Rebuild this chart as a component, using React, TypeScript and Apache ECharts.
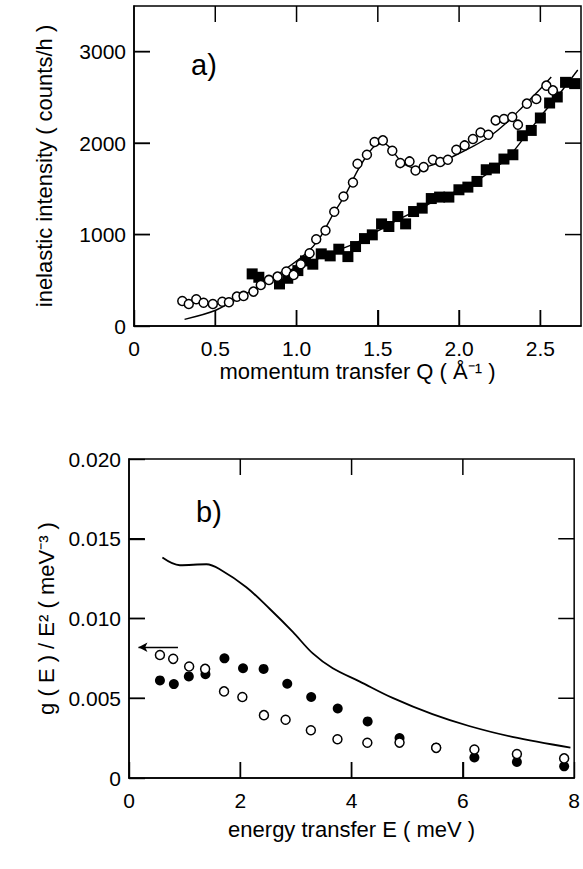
import React, { useEffect, useRef } from "react";
import * as echarts from "echarts";

// ---- Panel a) data ----
const openQ = [0.297, 0.337, 0.383, 0.428, 0.485, 0.543, 0.584, 0.633, 0.674, 0.735, 0.78, 0.83, 0.883, 0.937, 0.982, 1.026, 1.08, 1.121, 1.178, 1.232, 1.289, 1.347, 1.375, 1.433, 1.48, 1.531, 1.589, 1.638, 1.695, 1.732, 1.782, 1.839, 1.884, 1.931, 1.983, 2.034, 2.085, 2.132, 2.18, 2.225, 2.276, 2.327, 2.362, 2.417, 2.475, 2.537, 2.577];
const openI = [274, 241, 292, 255, 241, 266, 259, 321, 329, 376, 449, 504, 540, 595, 559, 676, 796, 949, 1044, 1249, 1416, 1570, 1774, 1873, 2012, 2030, 1917, 1782, 1800, 1701, 1738, 1818, 1793, 1818, 1928, 1975, 2045, 2117, 2092, 2249, 2264, 2286, 2202, 2432, 2483, 2629, 2577];
const squareQ = [0.727, 0.768, 0.895, 0.946, 1.008, 1.055, 1.1, 1.152, 1.207, 1.26, 1.316, 1.363, 1.418, 1.466, 1.523, 1.568, 1.623, 1.671, 1.72, 1.773, 1.829, 1.88, 1.937, 1.999, 2.054, 2.11, 2.167, 2.218, 2.276, 2.331, 2.389, 2.444, 2.5, 2.557, 2.604, 2.655, 2.711];
const squareI = [570, 533, 460, 522, 606, 712, 676, 789, 767, 840, 759, 869, 956, 997, 1117, 1088, 1197, 1117, 1252, 1289, 1394, 1410, 1410, 1490, 1519, 1581, 1709, 1727, 1826, 1873, 2081, 2139, 2275, 2439, 2505, 2665, 2651];
const fitOpenQ = [0.311, 0.506, 0.731, 0.895, 1.06, 1.142, 1.223, 1.306, 1.367, 1.429, 1.49, 1.542, 1.593, 1.654, 1.737, 1.839, 1.962, 2.085, 2.188, 2.29, 2.393, 2.495, 2.567];
const fitOpenI = [73, 175, 394, 577, 796, 961, 1216, 1453, 1672, 1854, 1982, 1993, 1909, 1782, 1727, 1763, 1854, 1964, 2073, 2220, 2402, 2585, 2724];
const fitSquareQ = [0.9, 1.0, 1.1, 1.2, 1.3, 1.4, 1.5, 1.6, 1.7, 1.8, 1.9, 2.0, 2.1, 2.2, 2.3, 2.4, 2.5, 2.6, 2.73];
const fitSquareI = [560, 640, 710, 790, 860, 940, 1040, 1140, 1230, 1320, 1410, 1490, 1580, 1700, 1840, 2060, 2290, 2500, 2800];

// ---- Panel b) data ----
const openE = [0.556, 0.794, 1.081, 1.368, 1.708, 2.037, 2.425, 2.814, 3.268, 3.746, 4.283, 4.862, 5.52, 6.207, 6.971, 7.82];
const openG = [0.00771, 0.00747, 0.00699, 0.00684, 0.00543, 0.00508, 0.00394, 0.00365, 0.00299, 0.00243, 0.00221, 0.00222, 0.00189, 0.00179, 0.0015, 0.00123];
const filledE = [0.556, 0.806, 1.075, 1.374, 1.715, 2.049, 2.419, 2.844, 3.274, 3.751, 4.289, 4.862, 5.52, 6.207, 6.971, 7.82];
const filledG = [0.00612, 0.00589, 0.00637, 0.00651, 0.0075, 0.00688, 0.00684, 0.00591, 0.00508, 0.00436, 0.00355, 0.0025, 0.0019, 0.00129, 0.00101, 0.00073];
const curveE = [0.6, 0.914, 1.392, 1.631, 2.109, 2.527, 2.944, 3.303, 3.662, 4.14, 4.737, 5.453, 6.111, 6.887, 7.933];
const curveG = [0.01382, 0.01334, 0.0134, 0.01309, 0.01196, 0.01061, 0.00916, 0.00781, 0.00688, 0.00606, 0.00502, 0.004, 0.00326, 0.00258, 0.00191];
const arrowFrom = [0.88, 0.0082];
const arrowTo = [0.17, 0.0082];

// ---- Axes / tick values ----
const xTicksA = { min: 0, max: 2.75, interval: 0.5 };
const yTicksA = { min: 0, max: 3500, interval: 1000 };
const xTicksB = { min: 0, max: 8, interval: 2 };
const yTicksB = { min: 0, max: 0.02, interval: 0.005 };
const tickQ = [0.5, 1.0, 1.5, 2.0, 2.5];
const tickI = [1000, 2000, 3000];
const tickE = [2, 4, 6];
const tickG = [0.005, 0.01, 0.015];

const FONT = "'Liberation Sans', Arial, Helvetica, sans-serif";
const TICK_LEN = 16;
const GRID_A = { left: 134, top: 6, width: 447, height: 320 };
const GRID_B = { left: 129, top: 459, width: 448, height: 319 };
const zip = (a: number[], b: number[]) => a.map((v, i) => [v, b[i]]);

// inward tick segments on all four sides, drawn as tiny line series in axis units
const frameTickSeries = (idx: number, xs: number[], ys: number[], xr: any, yr: any, g: any) => {
  const dy = (TICK_LEN / g.height) * (yr.max - yr.min);
  const dx = (TICK_LEN / g.width) * (xr.max - xr.min);
  const segs: number[][][] = [];
  xs.forEach((v) => {
    segs.push([[v, yr.min], [v, yr.min + dy]]);
    segs.push([[v, yr.max], [v, yr.max - dy]]);
  });
  ys.forEach((v) => {
    segs.push([[xr.min, v], [xr.min + dx, v]]);
    segs.push([[xr.max, v], [xr.max - dx, v]]);
  });
  return segs.map((s) => ({
    type: "line", xAxisIndex: idx, yAxisIndex: idx, data: s,
    showSymbol: false, symbol: "none", silent: true, clip: false, z: 4,
    lineStyle: { color: "#000", width: 1.5, opacity: 1 },
    emphasis: { disabled: true },
  }));
};

export default function App() {
  const ref = useRef<HTMLDivElement>(null);
  useEffect(() => {
    if (!ref.current) return;
    const chart = echarts.init(ref.current, null, { renderer: "svg" });
    const lab = { color: "#000", fontSize: 21, fontFamily: FONT };
    const tick = () => ({ show: true, inside: true, length: TICK_LEN, lineStyle: { color: "#000", width: 1.4 } });
    const xAx = (gi: number, t: any, fmt: (v: number) => string, name: string, gap: number, showMax: boolean) => ({
      type: "value", gridIndex: gi, ...t,
      axisLine: { show: true, onZero: false, lineStyle: { color: "#000", width: 1.5 } },
      axisTick: tick(), splitLine: { show: false },
      axisLabel: { ...lab, margin: 12, formatter: fmt, showMaxLabel: showMax },
      name, nameLocation: "middle", nameGap: gap,
      nameTextStyle: { color: "#000", fontSize: 22, fontFamily: FONT },
    });
    const yAx = (gi: number, t: any, fmt: (v: number) => string, name: string, gap: number, showMax: boolean) => ({
      type: "value", gridIndex: gi, ...t,
      axisLine: { show: true, onZero: false, lineStyle: { color: "#000", width: 1.5 } },
      axisTick: tick(), splitLine: { show: false },
      axisLabel: { ...lab, margin: 8, formatter: fmt, showMaxLabel: showMax },
      name, nameLocation: "middle", nameGap: gap, nameRotate: 90,
      nameTextStyle: { color: "#000", fontSize: 22, fontFamily: FONT },
    });
    const option: any = {
      animation: false,
      grid: [
        { ...GRID_A, show: true, borderColor: "#000", borderWidth: 1.5, backgroundColor: "transparent" },
        { ...GRID_B, show: true, borderColor: "#000", borderWidth: 1.5, backgroundColor: "transparent" },
      ],
      xAxis: [
        xAx(0, xTicksA, (v) => (v === 0 ? "0" : v.toFixed(1)), "momentum transfer Q ( Å⁻¹ )", 34, false),
        xAx(1, xTicksB, (v) => String(v), "energy transfer E ( meV )", 40, true),
      ],
      yAxis: [
        yAx(0, yTicksA, (v) => String(v), "inelastic intensity ( counts/h )", 79, false),
        yAx(1, yTicksB, (v) => (v === 0 ? "0" : v.toFixed(3)), "g ( E ) / E² ( meV⁻³ )", 70, true),
      ],
      series: [
        ...frameTickSeries(0, tickQ, tickI, xTicksA, yTicksA, GRID_A),
        ...frameTickSeries(1, tickE, tickG, xTicksB, yTicksB, GRID_B),
        {
          type: "line", xAxisIndex: 0, yAxisIndex: 0, data: zip(fitSquareQ, fitSquareI),
          smooth: 0.3, showSymbol: false, symbol: "none", lineStyle: { color: "#000", width: 1.4 }, z: 1,
        },
        {
          type: "line", xAxisIndex: 0, yAxisIndex: 0, data: zip(fitOpenQ, fitOpenI),
          smooth: 0.3, showSymbol: false, symbol: "none", lineStyle: { color: "#000", width: 1.4 }, z: 1,
        },
        {
          type: "scatter", xAxisIndex: 0, yAxisIndex: 0, data: zip(squareQ, squareI),
          symbol: "rect", symbolSize: 11, itemStyle: { color: "#000", opacity: 1 }, z: 2,
        },
        {
          type: "scatter", xAxisIndex: 0, yAxisIndex: 0, data: zip(openQ, openI),
          symbol: "circle", symbolSize: 9, itemStyle: { color: "#fff", borderColor: "#000", borderWidth: 1.5, opacity: 1 }, z: 3,
        },
        {
          type: "line", xAxisIndex: 1, yAxisIndex: 1, data: zip(curveE, curveG),
          smooth: 0.35, showSymbol: false, symbol: "none", lineStyle: { color: "#000", width: 1.8 }, z: 1,
        },
        {
          type: "scatter", xAxisIndex: 1, yAxisIndex: 1, data: zip(filledE, filledG),
          symbol: "circle", symbolSize: 10, itemStyle: { color: "#000", opacity: 1 }, z: 2,
        },
        {
          type: "scatter", xAxisIndex: 1, yAxisIndex: 1, data: zip(openE, openG),
          symbol: "circle", symbolSize: 9, itemStyle: { color: "#fff", borderColor: "#000", borderWidth: 1.5, opacity: 1 }, z: 3,
          markLine: {
            silent: true, symbol: ["none", "arrow"], symbolSize: [7, 9], label: { show: false },
            lineStyle: { color: "#000", width: 1.3, type: "solid" },
            data: [[{ coord: arrowFrom }, { coord: arrowTo }]],
          },
        },
      ],
      graphic: [
        { type: "text", left: 191, top: 50, style: { text: "a)", fontSize: 29, fontFamily: FONT, fill: "#000" } },
        { type: "text", left: 196, top: 497, style: { text: "b)", fontSize: 29, fontFamily: FONT, fill: "#000" } },
      ],
    };
    chart.setOption(option);
    return () => chart.dispose();
  }, []);
  return <div ref={ref} style={{ width: 583, height: 869, position: "absolute", left: 0, top: 0, background: "#fff" }} />;
}
